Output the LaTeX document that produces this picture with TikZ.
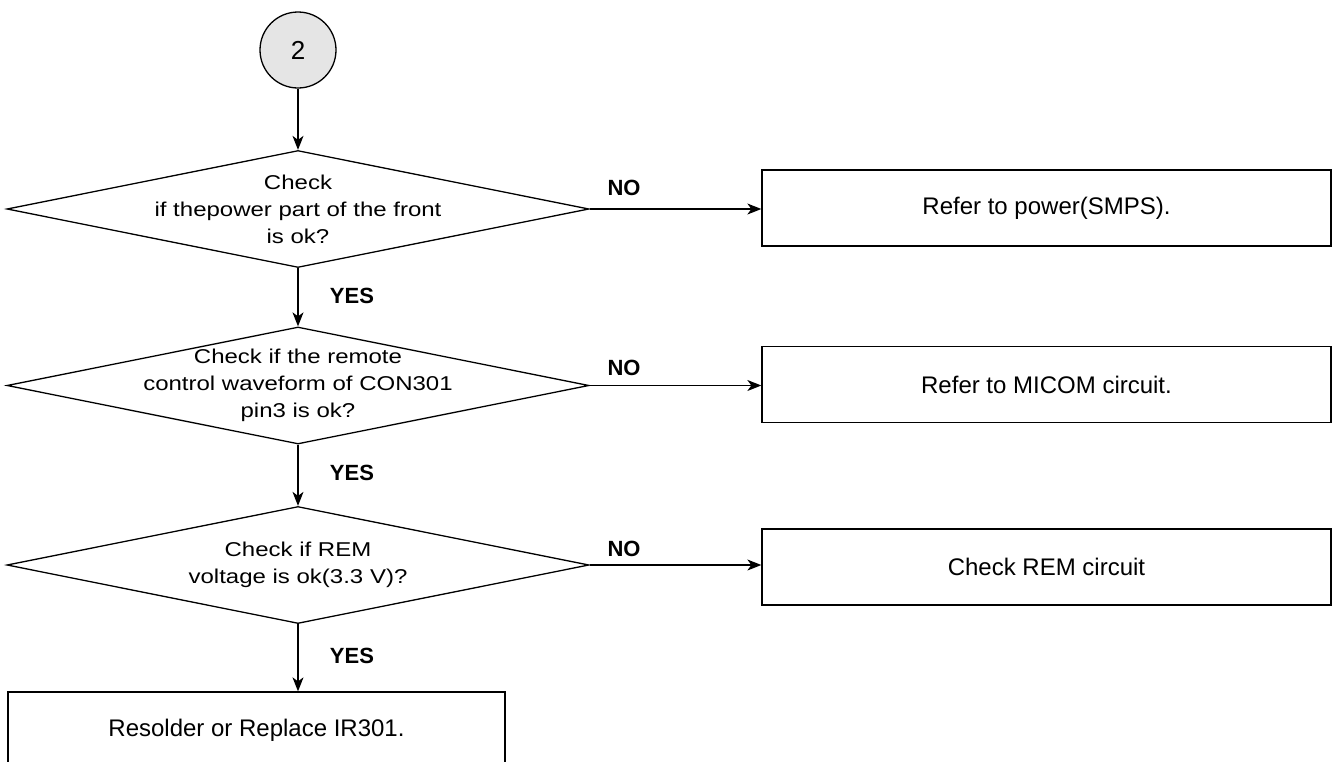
\documentclass[tikz,border=0pt]{standalone}
\usepackage{fontspec}
\setmainfont{Liberation Sans}
\newfontfamily\widesans[FakeStretch=1.2]{Liberation Sans}
\usetikzlibrary{shapes.geometric,arrows.meta}
\begin{document}
\begin{tikzpicture}[x=1pt,y=-1pt,
  line width=1.3pt,
  every node/.style={font=\fontsize{24}{28}\selectfont},
  decision/.style={draw, diamond, inner sep=0pt, minimum width=582pt, minimum height=117pt},
  action/.style={draw, rectangle, inner sep=0pt, minimum width=569pt, minimum height=76pt},
  start/.style={draw, circle, fill=black!10, minimum size=76pt, inner sep=0pt, font=\fontsize{26}{28}\selectfont},
  flow/.style={-{Stealth[length=14pt,width=11pt,inset=4pt]}},
  answer/.style={font=\bfseries\fontsize{22}{24}\selectfont, inner sep=0pt},
  caption/.style={align=center, inner sep=0pt, font=\widesans\fontsize{20}{27}\selectfont}]
\useasboundingbox (0,0) rectangle (1334,761);

% entry connector
\node[start] (c2) at (298,50) {2};

% decisions
\node[decision] (d1) at (298,209) {};
\node[caption] (t1) at (d1) {Check\\if thepower part of the front\\is ok?};
\node[decision] (d2) at (298,385.5) {};
\node[caption] (t2) at (d2) {Check if the remote\\control waveform of CON301\\pin3 is ok?};
\node[decision] (d3) at (298,565) {};
\node[caption] (t3) at (d3) {Check if REM\\voltage is ok(3.3 V)?};

% actions
\node[action] (a1) at (1046.5,208) {Refer to power(SMPS).};
\node[action] (a2) at (1046.5,384.5) {Refer to MICOM circuit.};
\node[action] (a3) at (1046.5,567) {Check REM circuit};
\node[action, minimum width=497pt] (a4) at (256.5,730) {Resolder or Replace IR301.};

% flow
\draw[flow] (c2) -- (d1);
\draw[flow] (d1) -- (d2);
\draw[flow] (d2) -- (d3);
\draw[flow] (d3.south) -- (d3.south |- a4.north);
\draw[flow] (d1.east) -- (a1.west |- d1.east);
\draw[flow] (d2.east) -- (a2.west |- d2.east);
\draw[flow] (d3.east) -- (a3.west |- d3.east);

% branch labels
\node[answer] (y1) at (352,296) {YES};
\node[answer] (y2) at (352,473) {YES};
\node[answer] (y3) at (352,656) {YES};
\node[answer] (n1) at (624,188) {NO};
\node[answer] (n2) at (624,368) {NO};
\node[answer] (n3) at (624,549) {NO};
\end{tikzpicture}
\end{document}
